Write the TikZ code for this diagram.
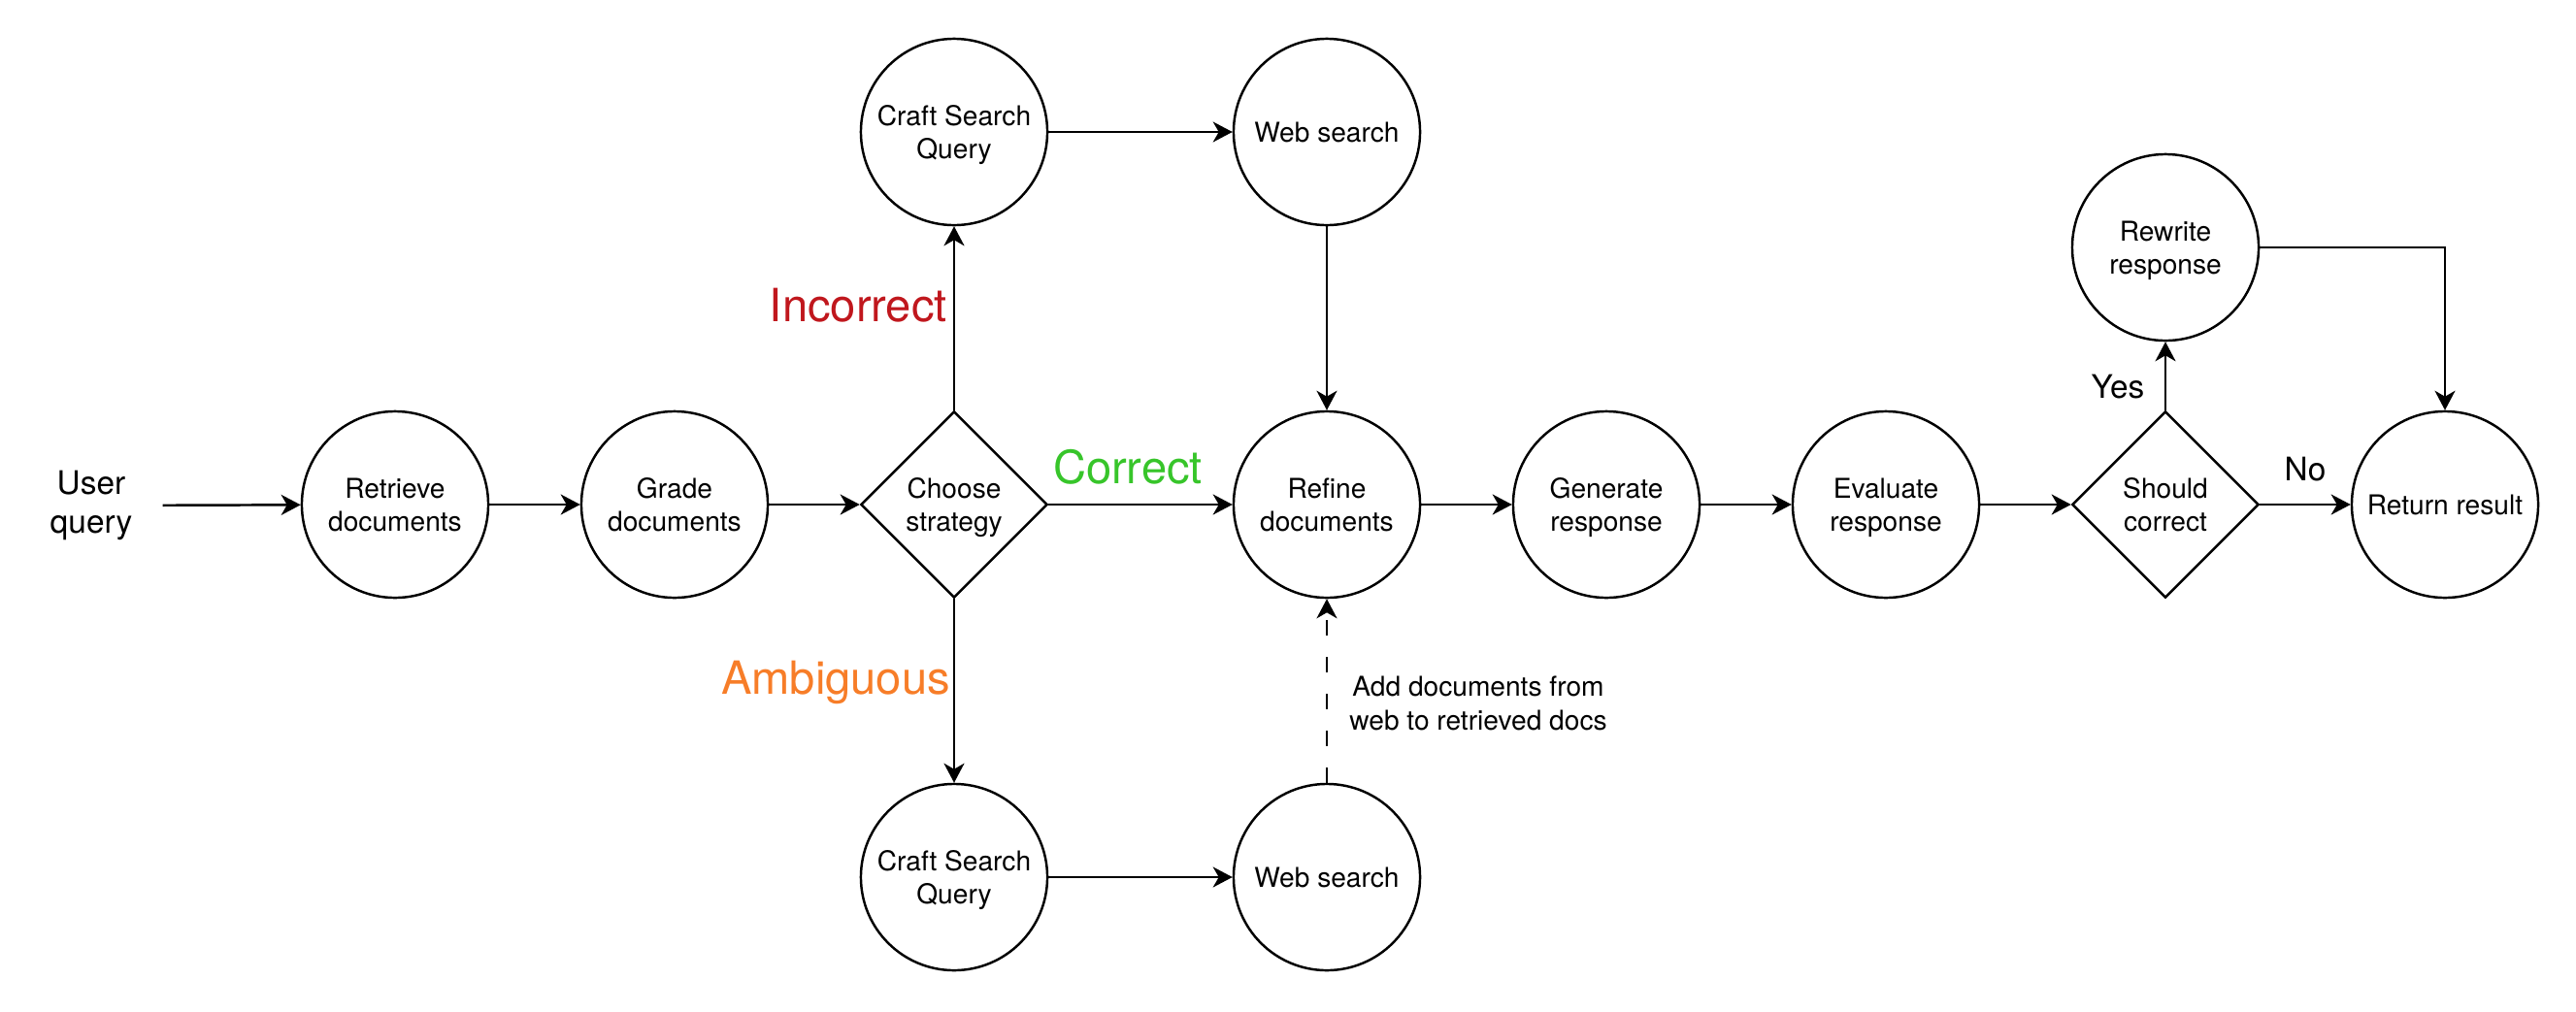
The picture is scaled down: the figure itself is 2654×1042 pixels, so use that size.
\documentclass[tikz,border=0pt]{standalone}
\usepackage{fontspec}
\setmainfont{TeX Gyre Heros}
\usetikzlibrary{arrows.meta,shapes.geometric}

\definecolor{wrongred}{HTML}{C0171D}
\definecolor{rightgreen}{HTML}{37C52A}
\definecolor{unsureorange}{HTML}{F77D28}

\begin{document}
\begin{tikzpicture}[x=0.01cm, y=-0.01cm, line width=0.7pt,
    state/.style={draw, circle, minimum size=1.92cm, inner sep=0pt, align=center,
      text depth=0pt, font=\fontsize{8}{9.8}\selectfont},
    choice/.style={draw, diamond, minimum width=1.92cm, minimum height=1.92cm,
      inner sep=0pt, align=center, text depth=0pt, font=\fontsize{8}{9.8}\selectfont},
    flow/.style={-{Stealth[length=0.2cm, width=0.21cm, inset=0.06cm]}},
    branch/.style={font=\fontsize{13.4}{16}\selectfont, inner sep=0pt},
    answer/.style={font=\fontsize{9.5}{11.4}\selectfont, inner sep=0pt}]
      \useasboundingbox (0,0) rectangle (2654,1042);
      %
      \node[answer, align=center, inner xsep=0.3cm] (uq) at (94,521) {User\\query}; % main row
      \node[state] (ret) at (407,520) {Retrieve\\documents};
      \node[state] (grd) at (695,520) {Grade\\documents};
      \node[choice] (chs) at (983,520) {Choose\\strategy};
      \node[state] (ref) at (1367,520) {Refine\\documents};
      \node[state] (gen) at (1655,520) {Generate\\response};
      \node[state] (evl) at (1943,520) {Evaluate\\response};
      \node[choice] (shd) at (2231,520) {Should\\correct};
      \node[state] (res) at (2519,520) {Return result};
      %
      \node[state] (cq1) at (983,136) {Craft Search\\Query};   % top row
      \node[state] (ws1) at (1367,136) {Web search};
      \node[state] (rw) at (2231,255) {Rewrite\\response};
      %
      \node[state] (cq2) at (983,904) {Craft Search\\Query};   % bottom row
      \node[state] (ws2) at (1367,904) {Web search};
      %
      \node[branch, text=wrongred, anchor=base east] (lbinc) at (977,331) {Incorrect}; % labels
      \node[branch, text=rightgreen, anchor=base] (lbcor) at (1162,498) {Correct};
      \node[branch, text=unsureorange, anchor=base] (lbamb) at (861,715) {Ambiguous};
      \node[answer, anchor=base] (lbyes) at (2182,410) {Yes};
      \node[answer, anchor=base] (lbno) at (2375,495) {No};
      \node[align=center, inner sep=0pt, font=\fontsize{8}{9.8}\selectfont] (lbadd) at (1523,725)
        {Add documents from\\web to retrieved docs};
      %
      \draw[flow] (uq) -- (ret);   % connectors
      \draw[flow] (ret) -- (grd);
      \draw[flow] (grd) -- (chs);
      \draw[flow] (chs) -- (ref);
      \draw[flow] (ref) -- (gen);
      \draw[flow] (gen) -- (evl);
      \draw[flow] (evl) -- (shd);
      \draw[flow] (shd) -- (res);
      %
      \draw[flow] (chs.north) -- (cq1.south);
      \draw[flow] (cq1) -- (ws1);
      \draw[flow] (ws1) -- (ref);
      %
      \draw[flow] (chs.south) -- (cq2.north);
      \draw[flow] (cq2) -- (ws2);
      \draw[flow, dash pattern=on 0.16cm off 0.22cm] (ws2) -- (ref);
      %
      \draw[flow] (shd.north) -- (rw.south);
      \draw[flow] (rw.east) -| (res.north);
    \end{tikzpicture}
\end{document}
